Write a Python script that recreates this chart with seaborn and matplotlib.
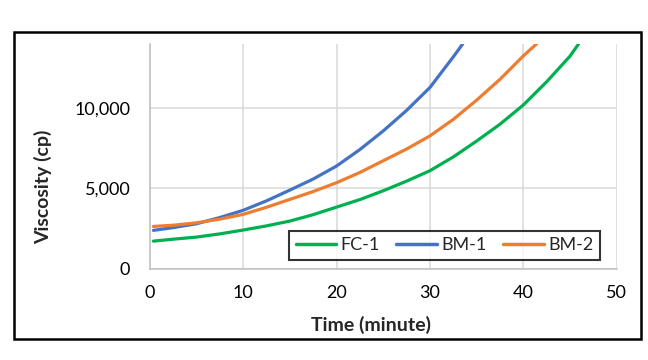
import matplotlib
matplotlib.use("Agg")
import matplotlib.pyplot as plt
import seaborn as sns
import pandas as pd
from matplotlib.patches import Rectangle
from matplotlib.ticker import FuncFormatter

# %% values
fc1_time = [0.4, 2.5, 5, 7.5, 10, 12.5, 15, 17.5, 20, 22.5, 25, 27.5, 30, 32.5, 35, 37.5, 40, 42.5, 45, 45.9]
fc1_visc = [1710, 1830, 1960, 2160, 2400, 2660, 2960, 3360, 3830, 4300, 4850, 5450, 6100, 6960, 7950, 9000, 10200, 11650, 13250, 14000]

bm1_time = [0.4, 2.5, 5, 7.5, 10, 12.5, 15, 17.5, 20, 22.5, 25, 27.5, 30, 32.5, 33.5]
bm1_visc = [2380, 2550, 2790, 3180, 3630, 4220, 4890, 5580, 6390, 7420, 8580, 9860, 11290, 13200, 14000]

bm2_time = [0.4, 2.5, 5, 7.5, 10, 12.5, 15, 17.5, 20, 22.5, 25, 27.5, 30, 32.5, 35, 37.5, 40, 41.4]
bm2_visc = [2625, 2700, 2850, 3080, 3375, 3820, 4310, 4800, 5350, 5990, 6720, 7450, 8270, 9300, 10500, 11800, 13260, 14000]

series = ["FC-1", "BM-1", "BM-2"]
colors = ["#00B050", "#4472C4", "#ED7D31"]

df = pd.concat([
    pd.DataFrame({"Time": fc1_time, "Viscosity": fc1_visc, "Sample": "FC-1"}),
    pd.DataFrame({"Time": bm1_time, "Viscosity": bm1_visc, "Sample": "BM-1"}),
    pd.DataFrame({"Time": bm2_time, "Viscosity": bm2_visc, "Sample": "BM-2"}),
])

# %% plot
sns.set_theme(style="white")
plt.rcParams["font.family"] = ["Lato", "DejaVu Sans"]

fig = plt.figure(figsize=(6.48, 3.6), dpi=100)
ax = fig.add_axes([0.231, 0.254, 0.721, 0.624])

sns.lineplot(data=df, x="Time", y="Viscosity", hue="Sample", hue_order=series,
             palette=dict(zip(series, colors)), estimator=None, sort=False,
             linewidth=2.3, ax=ax)

ax.set_xlim(0, 50)
ax.set_ylim(0, 14000)
ax.set_xticks([0, 10, 20, 30, 40, 50])
ax.set_yticks([0, 5000, 10000])
ax.yaxis.set_major_formatter(FuncFormatter(lambda v, p: f"{int(v):,}"))
ax.grid(True, color="#D9D9D9", linewidth=1.1)
ax.set_axisbelow(True)
ax.tick_params(length=0, labelsize=13, colors="black")
ax.tick_params(axis="x", pad=12)
ax.tick_params(axis="y", pad=14)
for s in ["top", "right"]:
    ax.spines[s].set_visible(False)
for s in ["left", "bottom"]:
    ax.spines[s].set_color("#BFBFBF")
    ax.spines[s].set_linewidth(1.1)

ax.set_xlabel("Time (minute)", fontsize=14, fontweight="bold")
ax.set_ylabel("Viscosity (cp)", fontsize=14, fontweight="bold")
ax.xaxis.set_label_coords(0.4745, -0.212)
ax.yaxis.set_label_coords(-0.209, 0.364)

leg = ax.legend(loc="lower right", bbox_to_anchor=(0.963, 0.039), ncol=3, fontsize=13,
                frameon=True, fancybox=False, handlelength=2.25, handletextpad=0.25,
                columnspacing=0.9, borderpad=0.35, borderaxespad=0)
leg.get_frame().set_edgecolor("black")
leg.get_frame().set_linewidth(1.5)
for line in leg.get_lines():
    line.set_linewidth(2.5)

# outer chart border
fig.patches.append(Rectangle((0.021, 0.058), 0.968, 0.853, transform=fig.transFigure,
                             fill=False, edgecolor="black", linewidth=1.8))

fig.savefig("out.png", dpi=100)
